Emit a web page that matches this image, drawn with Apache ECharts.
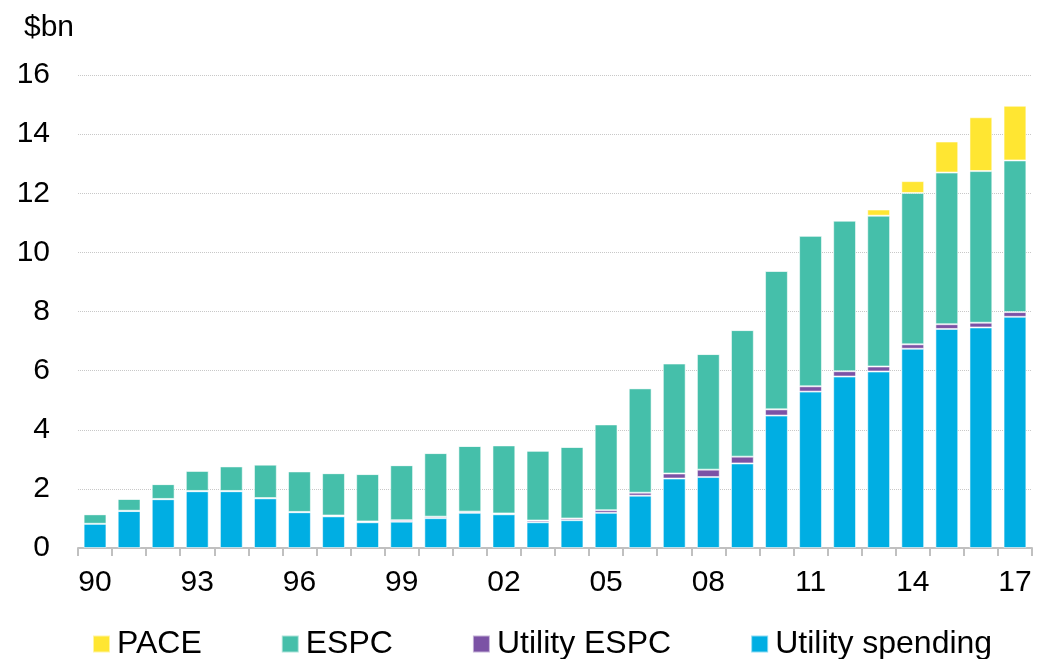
<!DOCTYPE html>
<html>
<head>
<meta charset="utf-8">
<script src="https://cdn.jsdelivr.net/npm/echarts@6/dist/echarts.min.js"></script>
<style>
  html, body { margin: 0; padding: 0; background: #ffffff; }
  #chart { width: 1038px; height: 659px; }
</style>
</head>
<body>
<div id="chart"></div>
<script>
// Annual spending, $bn, 1990-2017
const years = ['90','91','92','93','94','95','96','97','98','99','00','01','02','03','04','05','06','07','08','09','10','11','12','13','14','15','16','17'];

const utilitySpending = [0.82, 1.25, 1.65, 1.92, 1.92, 1.68, 1.21, 1.07, 0.87, 0.89, 1.01, 1.19, 1.14, 0.87, 0.94, 1.19, 1.77, 2.35, 2.40, 2.86, 4.48, 5.29, 5.80, 5.97, 6.74, 7.41, 7.46, 7.82];
const utilityEspc     = [0, 0.01, 0.01, 0.01, 0.01, 0.01, 0.01, 0.03, 0.03, 0.05, 0.05, 0.04, 0.03, 0.06, 0.06, 0.09, 0.10, 0.17, 0.25, 0.23, 0.21, 0.18, 0.18, 0.17, 0.15, 0.16, 0.16, 0.16];
const espc            = [0.32, 0.40, 0.50, 0.68, 0.83, 1.13, 1.37, 1.43, 1.60, 1.86, 2.15, 2.22, 2.30, 2.36, 2.42, 2.90, 3.53, 3.72, 3.91, 4.28, 4.68, 5.09, 5.09, 5.10, 5.12, 5.13, 5.13, 5.13];
const pace            = [0, 0, 0, 0, 0, 0, 0, 0, 0, 0, 0, 0, 0, 0, 0, 0, 0, 0, 0, 0, 0.02, 0.01, 0.02, 0.21, 0.40, 1.05, 1.82, 1.85];

const yTicks = { min: 0, max: 16, step: 2 };

const FONT = 'Liberation Sans, Arial, sans-serif';
const colors = {
  pace: '#FFE632',
  espc: '#45BFAA',
  utilityEspc: '#7B52A5',
  utility: '#00AEE3'
};

function barSeries(name, data, color) {
  return {
    name: name,
    type: 'bar',
    stack: 'total',
    data: data,
    barWidth: '67%',
    itemStyle: {
      color: color,
      borderColor: 'rgba(255,255,255,0.55)',
      borderWidth: 1
    },
    emphasis: { disabled: true }
  };
}

const chart = echarts.init(document.getElementById('chart'), null, { renderer: 'canvas' });

chart.setOption({
  animation: false,
  backgroundColor: '#ffffff',
  title: {
    text: '$bn',
    left: 19,
    top: 8,
    textStyle: { fontFamily: FONT, fontSize: 30, fontWeight: 'normal', color: '#000000' }
  },
  legend: {
    data: ['PACE', 'ESPC', 'Utility ESPC', 'Utility spending'],
    left: 92,
    top: 628,
    padding: 0,
    itemWidth: 17,
    itemHeight: 17,
    itemGap: 79,
    icon: 'rect',
    textStyle: { fontFamily: FONT, fontSize: 32, color: '#000000', padding: [0, 0, 0, 2] }
  },
  grid: {
    left: 78,
    right: 6,
    top: 75,
    bottom: 111,
    containLabel: false
  },
  xAxis: {
    type: 'category',
    data: years,
    boundaryGap: true,
    axisLine: { show: true, lineStyle: { color: '#c0c0c0', width: 2 } },
    axisTick: { show: true, interval: 0, length: 8, lineStyle: { color: '#c0c0c0', width: 2 } },
    axisLabel: {
      interval: 2,
      margin: 20,
      fontFamily: FONT,
      fontSize: 30,
      color: '#000000'
    },
    splitLine: { show: false }
  },
  yAxis: {
    type: 'value',
    min: yTicks.min,
    max: yTicks.max,
    interval: yTicks.step,
    axisLine: { show: false },
    axisTick: { show: false },
    axisLabel: {
      margin: 28,
      fontFamily: FONT,
      fontSize: 30,
      color: '#000000'
    },
    splitLine: { show: true, lineStyle: { color: '#c8c8c8', type: 'dotted', width: 1 } }
  },
  series: [
    barSeries('Utility spending', utilitySpending, colors.utility),
    barSeries('Utility ESPC', utilityEspc, colors.utilityEspc),
    barSeries('ESPC', espc, colors.espc),
    barSeries('PACE', pace, colors.pace)
  ]
});
</script>
</body>
</html>
